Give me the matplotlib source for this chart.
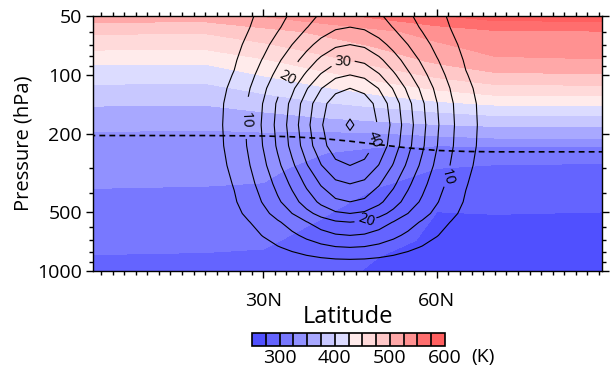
import numpy as np
import matplotlib
matplotlib.use("Agg")
import matplotlib.pyplot as plt
from matplotlib.ticker import FixedLocator, MultipleLocator, NullFormatter

plt.rcParams['font.family'] = ['Open Sans', 'DejaVu Sans']

# potential temperature (K): rows = pressure (hPa), columns = latitude
theta_lat = [0, 20, 30, 40, 50, 60, 70, 90]
theta_p = [50, 60, 70, 85, 100, 120, 150, 180, 210, 250, 300, 400, 500, 700, 850, 1000]
theta = np.array([
    [513, 512, 526, 541, 556, 573, 586, 588],
    [479, 478, 491, 505, 519, 535, 547, 549],
    [459, 458, 472, 488, 504, 522, 536, 538],
    [430, 429, 446, 465, 484, 504, 520, 523],
    [411, 410, 426, 443, 461, 480, 495, 498],
    [392, 391, 404, 418, 433, 449, 461, 463],
    [371, 370, 378, 387, 396, 405, 413, 414],
    [354, 353, 358, 363, 368, 374, 378, 379],
    [346, 345, 343, 336, 338, 345, 350, 351],
    [339, 338, 336, 326, 316, 306, 303, 302],
    [333, 332, 330, 318, 306, 300, 299, 299],
    [323, 322, 321, 308, 298, 288, 287, 287],
    [317, 316, 313, 302, 292, 275, 275.5, 275],
    [306, 305, 303, 293, 282, 271, 269, 268],
    [299, 298, 297, 287, 275, 268, 266, 265],
    [290, 289, 288, 282, 272, 265, 263, 262],
])
theta_levels = np.arange(250, 601, 25)
theta_colors = ['#5050ff', '#6464ff', '#7878ff', '#9191ff', '#a8a8ff', '#c8c8ff', '#dcdcff',
                '#ffebeb', '#ffdada', '#ffc8c8', '#ffa8a8', '#ff9191', '#ff6e6e', '#ff5f5f']

# zonal wind (m/s): latitudinal shape times the speed on the jet axis
jet_lat = np.arange(0, 90.1, 2.5)
jet_shape = [0, 0, 0, 0, 0, 0,
             0.01, 0.025, 0.05, 0.10, 0.15, 0.24, 0.345, 0.47, 0.60, 0.74, 0.87, 0.967,
             1.0,
             0.967, 0.87, 0.74, 0.60, 0.47, 0.345, 0.24, 0.15, 0.10, 0.05, 0.025, 0.01,
             0, 0, 0, 0, 0, 0]
jet_p = [50, 57, 70, 84, 100, 117, 140, 165, 180, 195, 230, 290, 360, 445, 510, 565, 660, 760, 875, 1000]
jet_core = [18, 20, 25, 30, 35, 40, 44, 44.9, 45.4, 44.9, 44, 40, 35, 30, 25, 20, 15, 10, 5, 1]
wind = np.outer(jet_core, jet_shape)
label_pos = [(27.0, 170), (34, 98), (43.8, 86), (49.3, 215), (47.9, 562), (61.7, 331)]

# tropopause
trop_lat = [0, 10, 20, 30, 35, 40, 45, 50, 55, 60, 65, 70, 80, 90]
trop_p = [204, 204, 204, 205, 207, 211, 218, 227, 236, 243, 246, 247, 247, 247]

fig = plt.figure(figsize=(6.12, 3.73), dpi=100)
ax = fig.add_axes([93.3 / 612, 1 - 270.7 / 373, 509 / 612, 254.7 / 373])

cf = ax.contourf(theta_lat, theta_p, theta, levels=theta_levels, colors=theta_colors)
ax.contour(jet_lat, jet_p, wind, levels=[5, 15, 25, 35, 45], colors='k', linewidths=0.8)
cs = ax.contour(jet_lat, jet_p, wind, levels=[10, 20, 30, 40], colors='k', linewidths=0.8)
ax.clabel(cs, manual=label_pos, fmt='%d', fontsize=10.5, inline_spacing=3)
ax.plot(trop_lat, trop_p, color='k', lw=1.2, ls=(0, (3.5, 2.5)))

ax.set_yscale('log')
ax.set_ylim(1000, 50)
ax.set_xlim(0.67, 88.57)
ax.yaxis.set_major_locator(FixedLocator([50, 100, 200, 500, 1000]))
ax.set_yticklabels(['50', '100', '200', '500', '1000'])
ax.yaxis.set_minor_formatter(NullFormatter())
ax.set_xticks([30, 60])
ax.set_xticklabels(['30N', '60N'])
ax.xaxis.set_minor_locator(MultipleLocator(2))
ax.tick_params(which='both', direction='out', top=True, right=True, width=1, labelsize=14)
ax.tick_params(which='major', length=5, pad=3)
ax.tick_params(axis='x', which='major', pad=10)
ax.tick_params(which='minor', length=2.8)
for s in ax.spines.values():
    s.set_linewidth(1)
ax.set_xlabel('Latitude', fontsize=17, labelpad=-3)
ax.set_ylabel('Pressure (hPa)', fontsize=14.5, labelpad=3)

cax = fig.add_axes([252 / 612, 1 - 346 / 373, 193 / 612, 13.3 / 373])
cb = fig.colorbar(cf, cax=cax, orientation='horizontal', drawedges=True)
cb.set_ticks([300, 400, 500, 600])
cb.ax.tick_params(length=0, labelsize=14, pad=2)
cb.outline.set_linewidth(1.2)
cb.dividers.set_color('k')
cb.dividers.set_linewidth(1.2)
fig.text(483 / 612, 1 - 357 / 373, '(K)', ha='center', va='center', fontsize=14)

fig.savefig('out.png', dpi=100)
